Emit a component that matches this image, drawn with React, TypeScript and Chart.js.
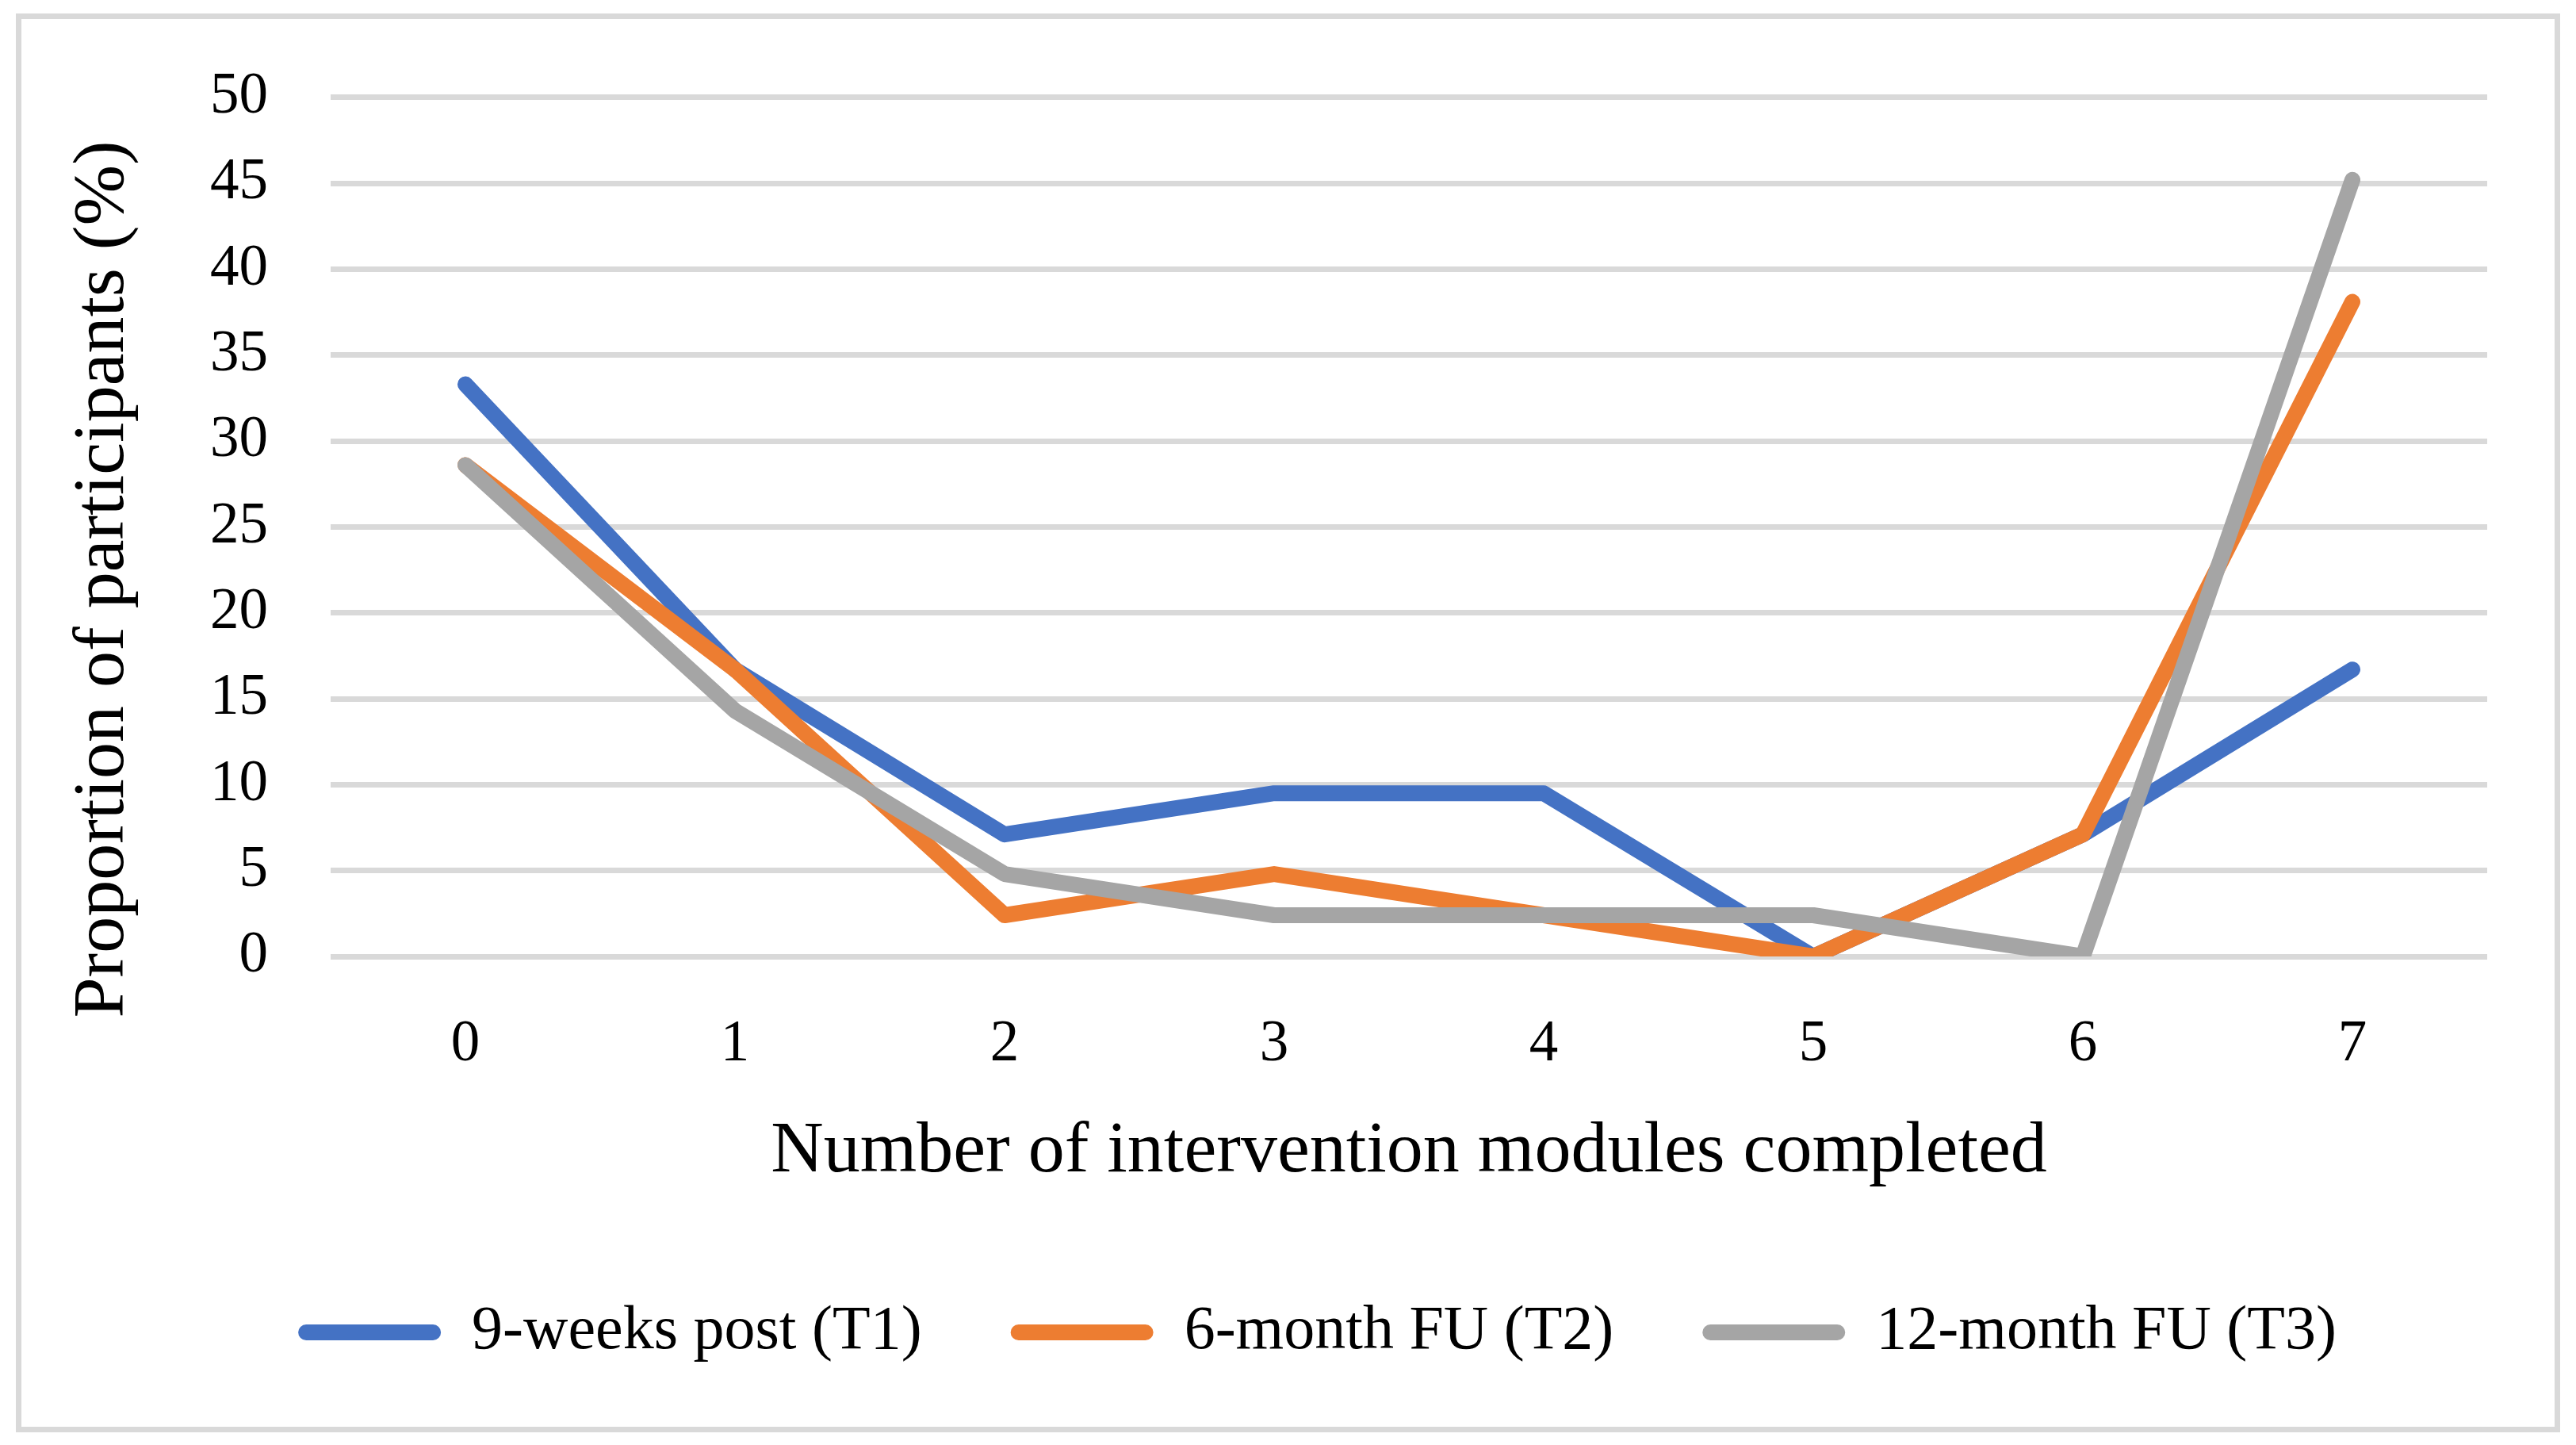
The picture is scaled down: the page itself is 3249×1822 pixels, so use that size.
import { Chart, ChartConfiguration, Plugin } from "chart.js/auto";
import { useEffect, useRef } from "react";

// modules completed (x categories)
const modules = ["0", "1", "2", "3", "4", "5", "6", "7"];

// proportion of participants (%) per time point
const t1Values = [33.3, 16.7, 7.1, 9.5, 9.5, 0, 7.1, 16.7];
const t2Values = [28.6, 16.7, 2.4, 4.8, 2.4, 0, 7.1, 38.1];
const t3Values = [28.6, 14.3, 4.8, 2.4, 2.4, 2.4, 0, 45.2];

const seriesNames = ["9-weeks post (T1)", "6-month FU (T2)", "12-month FU (T3)"];
const seriesColors = ["#4472C4", "#ED7D31", "#A5A5A5"];

const yTitle = "Proportion of participants (%)";
const xTitle = "Number of intervention modules completed";

const FONT = '"Liberation Serif", "Times New Roman", serif';
const W = 3249;
const H = 1822;

// Excel centres the value-axis title on plot area + category labels,
// so it is drawn here instead of with the scale's own title
const yTitlePlugin: Plugin<"line"> = {
  id: "yTitleDraw",
  afterDraw(chart) {
    const { ctx, chartArea } = chart;
    const x = chartArea.left - 286;
    const y = (chartArea.top + chartArea.bottom) / 2 + 66;
    ctx.save();
    ctx.translate(x, y);
    ctx.rotate(-Math.PI / 2);
    ctx.font = `92px ${FONT}`;
    ctx.fillStyle = "#000000";
    ctx.textAlign = "center";
    ctx.textBaseline = "middle";
    ctx.fillText(yTitle, 0, 0);
    ctx.restore();
  },
};

export default function App() {
  const chartRef = useRef<HTMLCanvasElement | null>(null);
  const chartInstance = useRef<Chart<"line", number[], string> | null>(null);

  useEffect(() => {
    if (!chartRef.current) return;
    const ctx = chartRef.current.getContext("2d");
    if (!ctx) return;
    if (chartInstance.current) chartInstance.current.destroy();

    const values = [t1Values, t2Values, t3Values];
    const orders = [3, 2, 1]; // grey on top, then orange, then blue

    chartInstance.current = new Chart(ctx, {
      type: "line",
      data: {
        labels: modules,
        datasets: values.map((v, i) => ({
          label: seriesNames[i],
          data: v,
          borderColor: seriesColors[i],
          backgroundColor: seriesColors[i],
          borderWidth: 20,
          borderCapStyle: "round",
          borderJoinStyle: "round",
          pointRadius: 0,
          pointHoverRadius: 0,
          tension: 0,
          fill: false,
          order: orders[i],
        })),
      },
      options: {
        responsive: false,
        animation: false,
        devicePixelRatio: 1,
        layout: {
          padding: { top: 108, right: 112, bottom: 93, left: 186 },
        },
        scales: {
          x: {
            type: "category",
            offset: true,
            grid: { display: false, drawTicks: false },
            border: { display: false },
            ticks: {
              color: "#000000",
              padding: 68,
              font: { family: FONT, size: 73 },
            },
            title: {
              display: true,
              text: xTitle,
              color: "#000000",
              font: { family: FONT, size: 92 },
              padding: { top: -32, bottom: 21 },
            },
          },
          y: {
            min: 0,
            max: 50,
            grid: { color: "#D9D9D9", lineWidth: 7, drawTicks: false },
            border: { display: false },
            ticks: {
              stepSize: 5,
              color: "#000000",
              padding: 79,
              font: { family: FONT, size: 73 },
            },
          },
        },
        plugins: {
          tooltip: { enabled: false },
          legend: {
            position: "bottom",
            labels: {
              color: "#000000",
              font: { family: FONT, size: 78 },
              boxWidth: 180,
              boxHeight: 20,
              padding: 112,
              useBorderRadius: true,
              borderRadius: 10,
              sort: (a, b) => (a.datasetIndex ?? 0) - (b.datasetIndex ?? 0),
              generateLabels: (chart) =>
                Chart.defaults.plugins.legend.labels
                  .generateLabels(chart)
                  .map((item) => ({ ...item, lineWidth: 0 })),
            },
          },
        },
      },
      plugins: [yTitlePlugin],
    } as ChartConfiguration<"line", number[], string>);

    return () => {
      if (chartInstance.current) {
        chartInstance.current.destroy();
        chartInstance.current = null;
      }
    };
  }, []);

  return (
    <div
      style={{
        position: "fixed",
        left: 0,
        top: 0,
        width: W,
        height: H,
        background: "#FFFFFF",
        overflow: "hidden",
      }}
    >
      <canvas
        ref={chartRef}
        width={W}
        height={H}
        style={{ position: "absolute", left: 0, top: 0, width: W, height: H }}
      ></canvas>
      <div
        style={{
          position: "absolute",
          left: 20,
          top: 17,
          width: 3209,
          height: 1789,
          border: "7px solid #D9D9D9",
          boxSizing: "border-box",
          pointerEvents: "none",
        }}
      ></div>
    </div>
  );
}
